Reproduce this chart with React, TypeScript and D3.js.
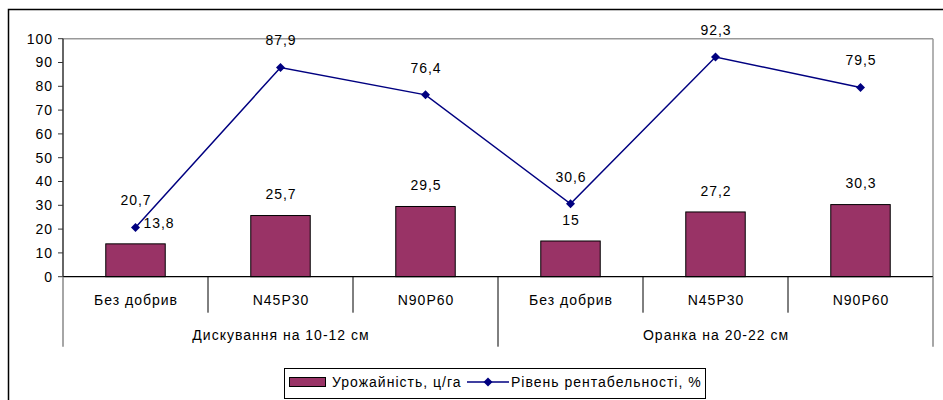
import React from "react";
import * as d3 from "d3";

// Tillage systems (outer category level) and fertiliser treatments (inner level)
const groups = ["Дискування на 10-12 см", "Оранка на 20-22 см"];
const treatments = ["Без добрив", "N45P30", "N90P60"];

// Yield, c/ha (bars) and profitability level, % (line)
const yieldValues = [13.8, 25.7, 29.5, 15, 27.2, 30.3];
const profitability = [20.7, 87.9, 76.4, 30.6, 92.3, 79.5];

const yTicks = [0, 10, 20, 30, 40, 50, 60, 70, 80, 90, 100];

const seriesNames = ["Урожайність, ц/га", "Рівень рентабельності, %"];

const W = 943;
const H = 400;
const FONT = "'Liberation Sans', Arial, sans-serif";
const BAR_FILL = "#993366";
const LINE_COLOR = "#000080";

const fmt = (v: number) => String(v).replace(".", ",");

export default function App() {
  const plot = { left: 63, right: 933, top: 38.7, bottom: 276.7 };
  const cats = groups.flatMap((g) => treatments.map((t) => `${g}|${t}`));

  const x = d3
    .scaleBand<string>()
    .domain(cats)
    .range([plot.left, plot.right])
    .padding(0);
  const y = d3.scaleLinear().domain([0, 100]).range([plot.bottom, plot.top]);

  const bw = x.bandwidth();
  const barW = bw * 0.41;
  const cx = (i: number) => (x(cats[i]) as number) + bw / 2;

  const line = d3
    .line<number>()
    .x((_, i) => cx(i))
    .y((d) => y(d));

  const diamond = (px: number, py: number, r: number) =>
    `M${px},${py - r}L${px + r},${py}L${px},${py + r}L${px - r},${py}Z`;

  const groupW = bw * treatments.length;
  const innerTickBottom = plot.bottom + 36;
  const outerTickBottom = plot.bottom + 70;

  // shared text style; a little tracking gives the wide chart lettering
  const txt = { fontSize: 14, fill: "#000", letterSpacing: 1 } as const;

  return (
    <svg
      width={W}
      height={H}
      style={{ position: "absolute", left: 0, top: 0, background: "#fff" }}
      fontFamily={FONT}
    >
      {/* chart frame */}
      <rect x={8.5} y={9.5} width={1000} height={500} fill="#fff" stroke="#000" strokeWidth={1.5} />

      {/* plot area border (top and right) */}
      <line x1={plot.left} x2={plot.right} y1={plot.top} y2={plot.top} stroke="#999" strokeWidth={1.5} />
      <line x1={plot.right} x2={plot.right} y1={plot.top} y2={plot.bottom} stroke="#999" strokeWidth={1.5} />

      {/* bars */}
      {yieldValues.map((v, i) => (
        <rect
          key={`b${i}`}
          x={cx(i) - barW / 2}
          y={y(v)}
          width={barW}
          height={y(0) - y(v)}
          fill={BAR_FILL}
          stroke="#000"
          strokeWidth={1}
        />
      ))}

      {/* y axis */}
      <line x1={plot.left} x2={plot.left} y1={plot.top} y2={plot.bottom} stroke="#333" strokeWidth={1.5} />
      {yTicks.map((t) => (
        <g key={`t${t}`}>
          <line x1={plot.left - 5} x2={plot.left} y1={y(t)} y2={y(t)} stroke="#333" strokeWidth={1} />
          <text x={plot.left - 10} y={y(t)} dy="0.35em" textAnchor="end" {...txt}>
            {t}
          </text>
        </g>
      ))}

      {/* category axis */}
      <line x1={plot.left} x2={plot.right} y1={plot.bottom} y2={plot.bottom} stroke="#000" strokeWidth={1.2} />
      {cats.map((c, i) => {
        const left = x(c) as number;
        const isGroupEdge = i % treatments.length === 0;
        return (
          <g key={`c${i}`}>
            {!isGroupEdge && (
              <line x1={left} x2={left} y1={plot.bottom} y2={innerTickBottom} stroke="#000" strokeWidth={1} />
            )}
            <text x={cx(i) + 0.5} y={plot.bottom + 23} dy="0.35em" textAnchor="middle" {...txt}>
              {treatments[i % treatments.length]}
            </text>
          </g>
        );
      })}
      {d3.range(groups.length + 1).map((g) => {
        const gx = plot.left + g * groupW;
        const edge = g === 0 || g === groups.length;
        return (
          <line
            key={`g${g}`}
            x1={gx}
            x2={gx}
            y1={plot.bottom}
            y2={outerTickBottom}
            stroke={edge ? "#888" : "#000"}
            strokeWidth={edge ? 1.5 : 1}
          />
        );
      })}
      {groups.map((g, gi) => (
        <text
          key={`gl${gi}`}
          x={plot.left + gi * groupW + groupW / 2 + 0.5}
          y={plot.bottom + 58}
          dy="0.35em"
          textAnchor="middle"
          {...txt}
        >
          {g}
        </text>
      ))}

      {/* profitability line */}
      <path d={line(profitability) as string} fill="none" stroke={LINE_COLOR} strokeWidth={1.5} />
      {profitability.map((v, i) => (
        <path key={`m${i}`} d={diamond(cx(i), y(v), 4.5)} fill={LINE_COLOR} />
      ))}

      {/* data labels */}
      {yieldValues.map((v, i) => {
        const ly = y(v) - 21;
        // move the label aside when the line marker sits on top of it
        const clash = Math.abs(y(profitability[i]) - ly) < 12;
        return (
          <text
            key={`bl${i}`}
            x={cx(i) + 0.5 + (clash ? 23 : 0)}
            y={ly}
            dy="0.35em"
            textAnchor="middle"
            {...txt}
          >
            {fmt(v)}
          </text>
        );
      })}
      {profitability.map((v, i) => (
        <text
          key={`pl${i}`}
          x={cx(i) + 0.5}
          y={y(v) - 27}
          dy="0.35em"
          textAnchor="middle"
          {...txt}
        >
          {fmt(v)}
        </text>
      ))}

      {/* legend */}
      <g>
        <rect x={284.5} y={368.5} width={421} height={30} fill="#fff" stroke="#000" strokeWidth={1} />
        <rect x={289.5} y={377.5} width={36} height={9} fill={BAR_FILL} stroke="#000" strokeWidth={1} />
        <text x={332} y={382} dy="0.35em" {...txt}>
          {seriesNames[0]}
        </text>
        <line x1={467} x2={509} y1={382} y2={382} stroke={LINE_COLOR} strokeWidth={1.5} />
        <path d={diamond(488, 382, 4.5)} fill={LINE_COLOR} />
        <text x={511} y={382} dy="0.35em" {...txt}>
          {seriesNames[1]}
        </text>
      </g>
    </svg>
  );
}
